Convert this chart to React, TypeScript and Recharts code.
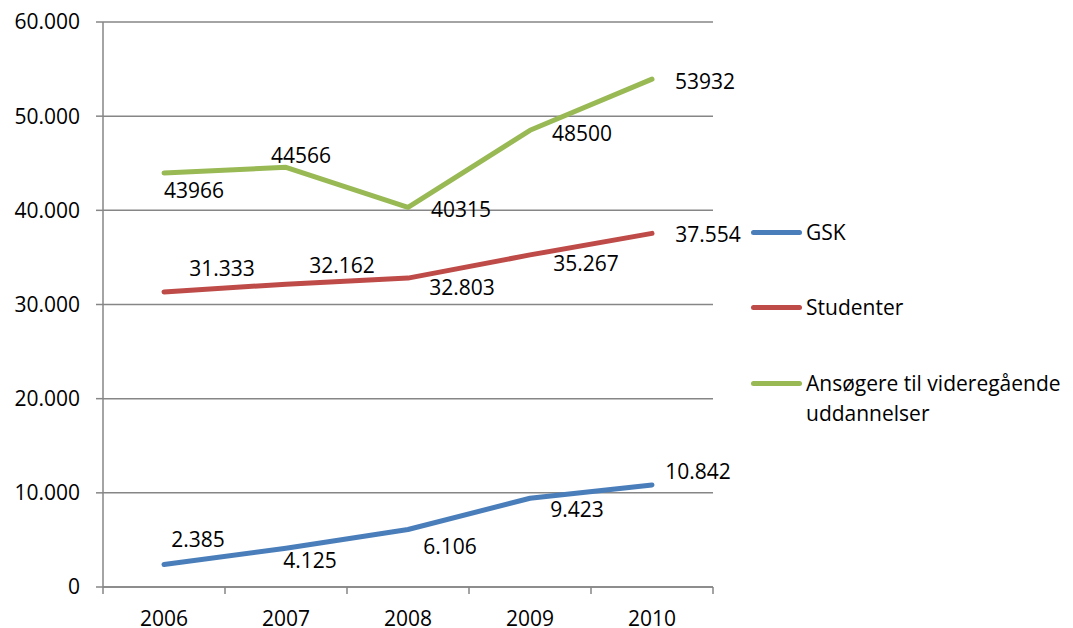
import { LineChart, Line, XAxis, YAxis, CartesianGrid, LabelList } from 'recharts';

const years = ['2006', '2007', '2008', '2009', '2010'];
const gsk = [2385, 4125, 6106, 9423, 10842];
const studenter = [31333, 32162, 32803, 35267, 37554];
const ansogere = [43966, 44566, 40315, 48500, 53932];
const yTicks = [0, 10000, 20000, 30000, 40000, 50000, 60000];

// label nudges (dx, dy in px from the point) - the labels were dragged around by hand in the original
const gskNudge = [[34, -26], [24, 12], [42, 16], [47, 11], [46, -14]];
const studenterNudge = [[58, -24], [56, -19], [54, 9], [56, 8], [56, 1]];
const ansogereNudge = [[30, 17], [15, -12], [53, 2], [52, 3], [53, 2]];

const FONT = "'Open Sans', 'Noto Sans', sans-serif";
const FONT_SIZE = 21;
const GRID = '#868686';

const dotted = (v: number) => String(v).replace(/\B(?=(\d{3})+(?!\d))/g, '.');
const plain = (v: number) => String(v);

const series = [
  { key: 'gsk', name: 'GSK', color: '#4A7EBB', nudge: gskNudge, fmt: dotted, legendTop: 217 },
  { key: 'studenter', name: 'Studenter', color: '#BE4B48', nudge: studenterNudge, fmt: dotted, legendTop: 292 },
  { key: 'ansogere', name: 'Ansøgere til videregående uddannelser', color: '#98B954', nudge: ansogereNudge, fmt: plain, legendTop: 368 },
];

const data = years.map((year, i) => ({
  year,
  gsk: gsk[i],
  studenter: studenter[i],
  ansogere: ansogere[i],
}));

const makeLabel = (nudge: number[][], fmt: (v: number) => string) => (props: any) => {
  const x = props.x ?? props.viewBox?.x;
  const y = props.y ?? props.viewBox?.y;
  const [dx, dy] = nudge[props.index] ?? [0, 0];
  return (
    <text
      x={x + dx}
      y={y + dy}
      textAnchor='middle'
      dominantBaseline='central'
      fontSize={FONT_SIZE}
      fontFamily={FONT}
      fill='#000'
    >
      {fmt(Number(props.value))}
    </text>
  );
};

// category label in the middle of the band, tick marks on the band edges
const YearTick = (props: any) => {
  const { x, y, payload, index } = props;
  const half = payload?.offset || 61;
  const axisY = y - 7;
  return (
    <g>
      <line x1={x - half} x2={x - half} y1={axisY} y2={axisY + 7} stroke={GRID} strokeWidth={1.5} />
      {index === years.length - 1 && (
        <line x1={x + half} x2={x + half} y1={axisY} y2={axisY + 7} stroke={GRID} strokeWidth={1.5} />
      )}
      <text x={x} y={axisY + 31} textAnchor='middle' dominantBaseline='central' fontSize={FONT_SIZE} fontFamily={FONT} fill='#000'>
        {payload.value}
      </text>
    </g>
  );
};

export default function App() {
  return (
    <div style={{ position: 'absolute', left: 0, top: 0, width: 1073, height: 628, background: '#fff', fontFamily: FONT }}>
      <LineChart width={1073} height={628} data={data} margin={{ top: 22, right: 360, bottom: 0, left: 0 }}>
        <CartesianGrid vertical={false} stroke={GRID} strokeWidth={1.5} />
        <XAxis
          dataKey='year'
          scale='band'
          height={41}
          axisLine={{ stroke: GRID, strokeWidth: 1.5 }}
          tickLine={false}
          tickSize={7}
          tickMargin={0}
          tick={<YearTick />}
          interval={0}
        />
        <YAxis
          width={103}
          domain={[0, 60000]}
          ticks={yTicks}
          interval={0}
          axisLine={{ stroke: GRID, strokeWidth: 1.5 }}
          tickLine={{ stroke: GRID, strokeWidth: 1.5 }}
          tickSize={7}
          tickMargin={16}
          tickFormatter={(v: number) => dotted(v)}
          tick={{ fontSize: FONT_SIZE, fontFamily: FONT, fill: '#000' }}
        />
        {series.map((s) => (
          <Line
            key={s.key}
            dataKey={s.key}
            name={s.name}
            type='linear'
            stroke={s.color}
            strokeWidth={5}
            strokeLinecap='round'
            strokeLinejoin='round'
            dot={false}
            activeDot={false}
            isAnimationActive={false}
          >
            <LabelList dataKey={s.key} content={makeLabel(s.nudge, s.fmt)} />
          </Line>
        ))}
      </LineChart>
      {series.map((s) => (
        <div
          key={s.key}
          style={{ position: 'absolute', left: 751, top: s.legendTop, display: 'flex', alignItems: 'flex-start' }}
        >
          <div style={{ width: 51, height: 5, borderRadius: 3, background: s.color, marginTop: 12.5 }} />
          <div style={{ marginLeft: 4, width: 268, fontSize: FONT_SIZE, lineHeight: '30px', color: '#000' }}>{s.name}</div>
        </div>
      ))}
    </div>
  );
}
